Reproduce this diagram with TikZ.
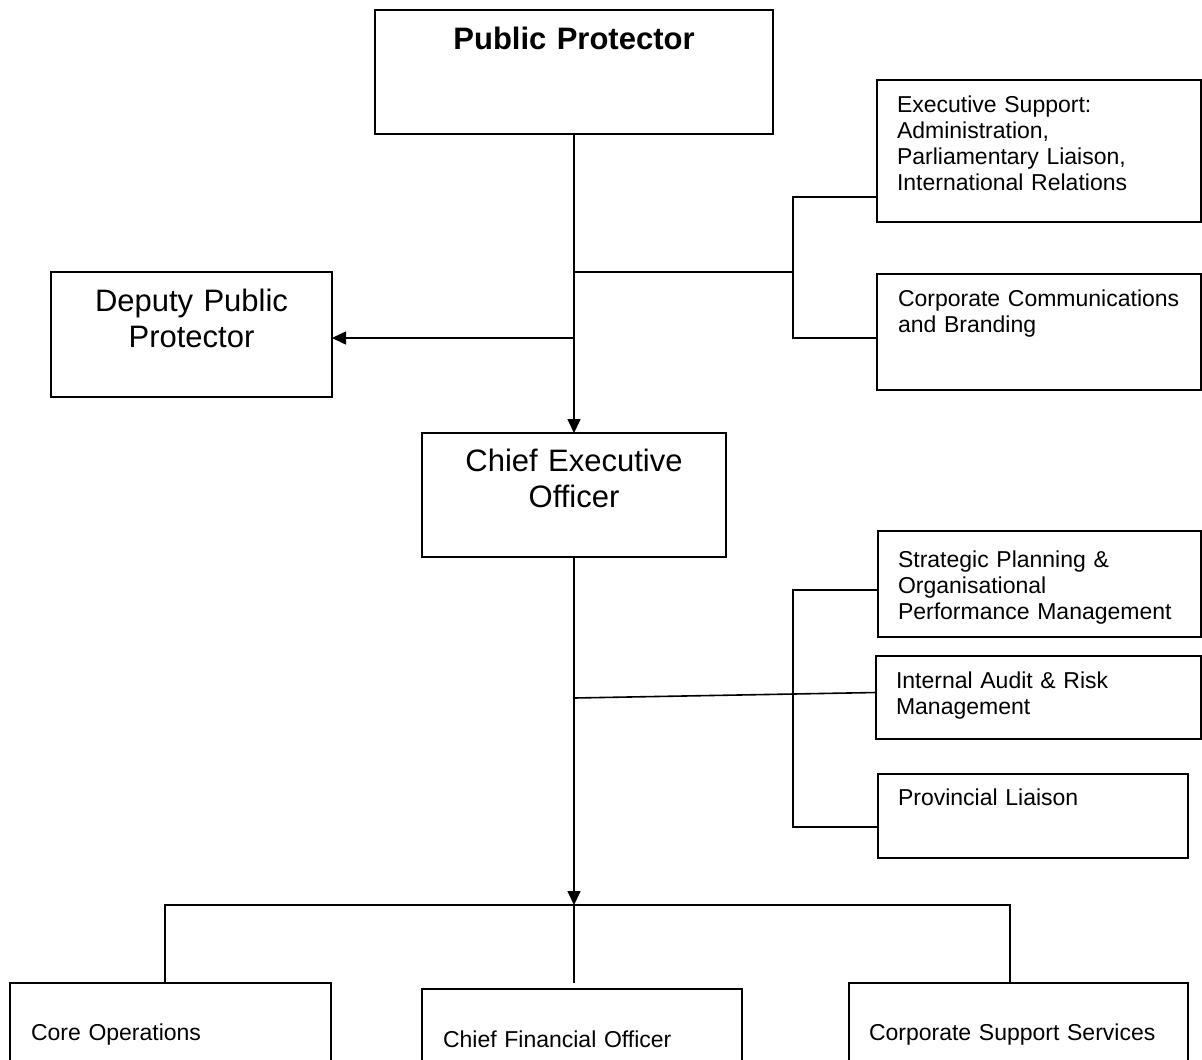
\documentclass[tikz,border=0pt]{standalone}
\usepackage{fontspec}
\setmainfont{Liberation Sans}
\usetikzlibrary{arrows.meta}
\begin{document}
\begin{tikzpicture}[x=0.5pt, y=-0.5pt, >={Triangle[length=7pt,width=6.5pt]},
    line width=0.8pt,
    unit/.style={draw, line width=0.9pt, anchor=north west, outer sep=0pt, inner ysep=0pt,
                 inner xsep=10pt, align=left, font=\fontsize{11.5}{13}\selectfont},
    head/.style={unit, inner xsep=0pt, align=center, font=\fontsize{15.5}{18}\selectfont}]
    \clip (0,0) rectangle (1202,1059);
    \node[head, text width=199pt, text height=20pt, text depth=42pt,
          font=\fontsize{15.5}{18}\selectfont\bfseries] (pp) at (375,10) {Public Protector};
    \node[head, text width=140.5pt, text height=19.5pt, text depth=43pt] (dpp) at (51,272) {Deputy Public\\Protector};
    \node[head, text width=152pt, text height=19pt, text depth=43pt] (ceo) at (422,433) {Chief Executive\\Officer};
    \node[unit, text width=142pt, text height=16.5pt, text depth=54.5pt] (es) at (877,80)
        {Executive Support:\\Administration,\\Parliamentary Liaison,\\International Relations};
    \node[unit, inner xsep=10.5pt, text width=141pt, text height=16pt, text depth=42pt] (cc) at (877,274)
        {Corporate Communications\\and Branding};
    \node[unit, text width=141.5pt, text height=18pt, text depth=35pt] (sp) at (878,531)
        {Strategic Planning \&\\Organisational\\Performance Management};
    \node[unit, text width=142.5pt, text height=16pt, text depth=25.5pt] (ia) at (876,656)
        {Internal Audit \& Risk\\Management};
    \node[unit, text width=135pt, text height=15.5pt, text depth=26.5pt] (pl) at (878,774) {Provincial Liaison};
    \node[unit, inner xsep=10.5pt, text width=139.5pt, text height=28.5pt, text depth=71.5pt] (core) at (10,983) {Core Operations};
    \node[unit, inner xsep=10.5pt, text width=139pt, text height=29pt, text depth=71pt] (cfo) at (422,989) {Chief Financial Officer};
    \node[unit, text width=149.5pt, text height=28.5pt, text depth=71.5pt] (css) at (849,983) {Corporate Support Services};
    \coordinate (ja) at (574,272);
    \coordinate (ba) at (793,272);
    \coordinate (jd) at (574,338);
    \coordinate (jc) at (574,698);
    \coordinate (bc) at (793,700);
    \coordinate (jb) at (574,905);
    \coordinate (jf) at (574,983);
    \draw[->] (pp) -- (ceo);
    \draw[->] (jd) -- (jd -| dpp.east);
    \draw (ja) -- (ba);
    \draw (es.west |- 0,197) -| (ba) |- (cc.west |- 0,338);
    \draw[->] (ceo) -- (jb);
    \draw (jc) -- ([yshift=2.5pt]ia.west);
    \draw ([yshift=-3pt]sp.west) -| (bc) |- ([yshift=-5.5pt]pl.west);
    \draw ([xshift=-2.75pt]core.north) |- (jb) -| ([xshift=-4.25pt]css.north);
    \draw (jb) -- (jf);
\end{tikzpicture}
\end{document}
